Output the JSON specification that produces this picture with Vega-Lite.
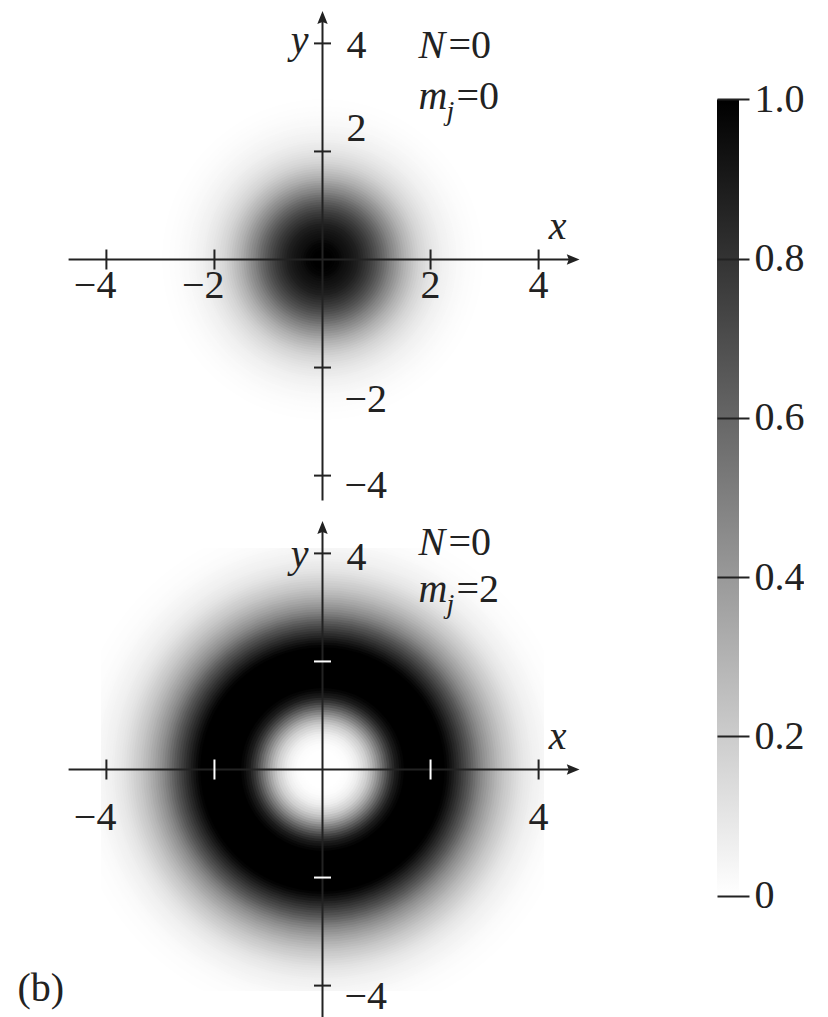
{
  "$schema": "https://vega.github.io/schema/vega-lite/v6.json",
  "background": "#ffffff",
  "padding": {"left": 17, "top": 11, "right": 0, "bottom": 0},
  "autosize": {"type": "pad"},
  "config": {"view": {"stroke": null}},
  "datasets": {
    "gauss": [
      {"r": 3.35, "v": 0.003}, {"r": 3.3, "v": 0.004}, {"r": 3.25, "v": 0.005}, {"r": 3.2, "v": 0.0065},
      {"r": 3.15, "v": 0.008}, {"r": 3.1, "v": 0.01}, {"r": 3.05, "v": 0.012}, {"r": 3.0, "v": 0.0145},
      {"r": 2.95, "v": 0.017}, {"r": 2.9, "v": 0.0195}, {"r": 2.85, "v": 0.022}, {"r": 2.8, "v": 0.026},
      {"r": 2.75, "v": 0.03}, {"r": 2.7, "v": 0.035}, {"r": 2.65, "v": 0.04}, {"r": 2.6, "v": 0.045},
      {"r": 2.55, "v": 0.05}, {"r": 2.5, "v": 0.057}, {"r": 2.45, "v": 0.065}, {"r": 2.4, "v": 0.072},
      {"r": 2.35, "v": 0.08}, {"r": 2.3, "v": 0.09}, {"r": 2.25, "v": 0.1}, {"r": 2.2, "v": 0.112},
      {"r": 2.15, "v": 0.125}, {"r": 2.1, "v": 0.137}, {"r": 2.05, "v": 0.15}, {"r": 2.0, "v": 0.167},
      {"r": 1.95, "v": 0.185}, {"r": 1.9, "v": 0.207}, {"r": 1.85, "v": 0.23}, {"r": 1.8, "v": 0.252},
      {"r": 1.75, "v": 0.275}, {"r": 1.7, "v": 0.302}, {"r": 1.65, "v": 0.33}, {"r": 1.6, "v": 0.36},
      {"r": 1.55, "v": 0.39}, {"r": 1.5, "v": 0.42}, {"r": 1.45, "v": 0.45}, {"r": 1.4, "v": 0.485},
      {"r": 1.35, "v": 0.52}, {"r": 1.3, "v": 0.555}, {"r": 1.25, "v": 0.59}, {"r": 1.2, "v": 0.622},
      {"r": 1.15, "v": 0.655}, {"r": 1.1, "v": 0.685}, {"r": 1.05, "v": 0.715}, {"r": 1.0, "v": 0.745},
      {"r": 0.95, "v": 0.775}, {"r": 0.9, "v": 0.802}, {"r": 0.85, "v": 0.83}, {"r": 0.8, "v": 0.855},
      {"r": 0.75, "v": 0.88}, {"r": 0.7, "v": 0.897}, {"r": 0.65, "v": 0.915}, {"r": 0.6, "v": 0.93},
      {"r": 0.55, "v": 0.945}, {"r": 0.5, "v": 0.955}, {"r": 0.45, "v": 0.965}, {"r": 0.4, "v": 0.975},
      {"r": 0.35, "v": 0.985}, {"r": 0.3, "v": 0.99}, {"r": 0.25, "v": 0.995}, {"r": 0.2, "v": 1.0}
    ],
    "ring": [
      {"r": 5.25, "v": 0.002}, {"r": 5.2, "v": 0.003}, {"r": 5.15, "v": 0.004}, {"r": 5.1, "v": 0.0055},
      {"r": 5.05, "v": 0.007}, {"r": 5.0, "v": 0.0085}, {"r": 4.95, "v": 0.01}, {"r": 4.9, "v": 0.0125},
      {"r": 4.85, "v": 0.015}, {"r": 4.8, "v": 0.018}, {"r": 4.75, "v": 0.022}, {"r": 4.7, "v": 0.026},
      {"r": 4.65, "v": 0.03}, {"r": 4.6, "v": 0.035}, {"r": 4.55, "v": 0.04}, {"r": 4.5, "v": 0.045},
      {"r": 4.45, "v": 0.05}, {"r": 4.4, "v": 0.057}, {"r": 4.35, "v": 0.065}, {"r": 4.3, "v": 0.072},
      {"r": 4.25, "v": 0.08}, {"r": 4.2, "v": 0.09}, {"r": 4.15, "v": 0.1}, {"r": 4.1, "v": 0.115},
      {"r": 4.05, "v": 0.13}, {"r": 4.0, "v": 0.145}, {"r": 3.95, "v": 0.16}, {"r": 3.9, "v": 0.175},
      {"r": 3.85, "v": 0.19}, {"r": 3.8, "v": 0.21}, {"r": 3.75, "v": 0.23}, {"r": 3.7, "v": 0.25},
      {"r": 3.65, "v": 0.27}, {"r": 3.6, "v": 0.295}, {"r": 3.55, "v": 0.32}, {"r": 3.5, "v": 0.345},
      {"r": 3.45, "v": 0.37}, {"r": 3.4, "v": 0.4}, {"r": 3.35, "v": 0.43}, {"r": 3.3, "v": 0.465},
      {"r": 3.25, "v": 0.5}, {"r": 3.2, "v": 0.54}, {"r": 3.15, "v": 0.58}, {"r": 3.1, "v": 0.62},
      {"r": 3.05, "v": 0.66}, {"r": 3.0, "v": 0.7}, {"r": 2.95, "v": 0.74}, {"r": 2.9, "v": 0.78},
      {"r": 2.85, "v": 0.82}, {"r": 2.8, "v": 0.86}, {"r": 2.75, "v": 0.9}, {"r": 2.7, "v": 0.94},
      {"r": 2.65, "v": 0.97}, {"r": 2.6, "v": 0.99}, {"r": 2.55, "v": 1.0},
      {"r": 1.7, "v": 0.985}, {"r": 1.65, "v": 0.97}, {"r": 1.6, "v": 0.935}, {"r": 1.55, "v": 0.9},
      {"r": 1.5, "v": 0.84}, {"r": 1.45, "v": 0.78}, {"r": 1.4, "v": 0.71}, {"r": 1.35, "v": 0.64},
      {"r": 1.3, "v": 0.57}, {"r": 1.25, "v": 0.5}, {"r": 1.2, "v": 0.435}, {"r": 1.15, "v": 0.37},
      {"r": 1.1, "v": 0.315}, {"r": 1.05, "v": 0.26}, {"r": 1.0, "v": 0.215}, {"r": 0.95, "v": 0.17},
      {"r": 0.9, "v": 0.14}, {"r": 0.85, "v": 0.11}, {"r": 0.8, "v": 0.085}, {"r": 0.75, "v": 0.06},
      {"r": 0.7, "v": 0.045}, {"r": 0.65, "v": 0.03}, {"r": 0.6, "v": 0.02}, {"r": 0.55, "v": 0.01},
      {"r": 0.5, "v": 0.006}, {"r": 0.45, "v": 0.003}, {"r": 0.4, "v": 0.001}, {"r": 0.35, "v": 0.0}
    ]
  },
  "spacing": 136,
  "hconcat": [
    {
      "bounds": "flush",
      "spacing": 67,
      "vconcat": [
        {
          "width": 443,
          "height": 443,
          "layer": [
            {
              "data": {"name": "gauss"},
              "mark": {"type": "point", "shape": "circle", "filled": true, "opacity": 1, "strokeWidth": 0, "clip": true},
              "encoding": {
                "x": {"datum": 0, "type": "quantitative", "scale": {"domain": [-4.1, 4.1], "nice": false, "zero": false}, "axis": null},
                "y": {"datum": 0, "type": "quantitative", "scale": {"domain": [-4.1, 4.1], "nice": false, "zero": false}, "axis": null},
                "size": {"field": "r", "type": "quantitative", "scale": {"type": "pow", "exponent": 2, "domain": [0, 4.1], "range": [0, 154134]}, "legend": null},
                "color": {"field": "v", "type": "quantitative", "scale": {"domain": [0, 1], "range": ["#ffffff", "#000000"], "clamp": true}, "legend": null}
              }
            },
            {
              "data": {"values": [{}]},
              "mark": {"type": "rule", "color": "#222222", "strokeWidth": 2},
              "encoding": {
                "x": {"datum": -4.7, "type": "quantitative", "scale": {"domain": [-4.1, 4.1], "nice": false, "zero": false}, "axis": null},
                "x2": {"datum": 4.58},
                "y": {"datum": 0, "type": "quantitative", "scale": {"domain": [-4.1, 4.1], "nice": false, "zero": false}, "axis": null}
              }
            },
            {
              "data": {"values": [{}]},
              "mark": {"type": "point", "shape": "M1,0L-0.6,0.65L-0.35,0L-0.6,-0.65Z", "size": 256, "filled": true, "color": "#222222", "opacity": 1, "strokeWidth": 0},
              "encoding": {
                "x": {"datum": 4.61, "type": "quantitative", "scale": {"domain": [-4.1, 4.1], "nice": false, "zero": false}, "axis": null},
                "y": {"datum": 0, "type": "quantitative", "scale": {"domain": [-4.1, 4.1], "nice": false, "zero": false}, "axis": null}
              }
            },
            {
              "data": {"values": [{}]},
              "mark": {"type": "rule", "color": "#222222", "strokeWidth": 2},
              "encoding": {
                "x": {"datum": 0, "type": "quantitative", "scale": {"domain": [-4.1, 4.1], "nice": false, "zero": false}, "axis": null},
                "y": {"datum": -4.46, "type": "quantitative", "scale": {"domain": [-4.1, 4.1], "nice": false, "zero": false}, "axis": null},
                "y2": {"datum": 4.42}
              }
            },
            {
              "data": {"values": [{}]},
              "mark": {"type": "point", "shape": "M0,-1L0.65,0.6L0,0.35L-0.65,0.6Z", "size": 256, "filled": true, "color": "#222222", "opacity": 1, "strokeWidth": 0},
              "encoding": {
                "x": {"datum": 0, "type": "quantitative", "scale": {"domain": [-4.1, 4.1], "nice": false, "zero": false}, "axis": null},
                "y": {"datum": 4.45, "type": "quantitative", "scale": {"domain": [-4.1, 4.1], "nice": false, "zero": false}, "axis": null}
              }
            },
            {
              "data": {"values": [{"p": -4}, {"p": -2}, {"p": 2}, {"p": 4}]},
              "mark": {"type": "tick", "orient": "vertical", "size": 20, "thickness": 2, "color": "#222222", "opacity": 1},
              "encoding": {
                "x": {"field": "p", "type": "quantitative", "scale": {"domain": [-4.1, 4.1], "nice": false, "zero": false}, "axis": null},
                "y": {"datum": 0, "type": "quantitative", "scale": {"domain": [-4.1, 4.1], "nice": false, "zero": false}, "axis": null}
              }
            },
            {
              "data": {"values": [{"p": -4}, {"p": -2}, {"p": 2}, {"p": 4}]},
              "mark": {"type": "tick", "orient": "horizontal", "size": 17, "thickness": 2, "color": "#222222", "opacity": 1},
              "encoding": {
                "y": {"field": "p", "type": "quantitative", "scale": {"domain": [-4.1, 4.1], "nice": false, "zero": false}, "axis": null},
                "x": {"datum": 0, "type": "quantitative", "scale": {"domain": [-4.1, 4.1], "nice": false, "zero": false}, "axis": null}
              }
            },
            {
              "data": {"values": [{"p": -4, "t": "−4"}, {"p": -2, "t": "−2"}, {"p": 2, "t": "2"}, {"p": 4, "t": "4"}]},
              "mark": {"type": "text", "font": "Liberation Serif", "fontSize": 40, "color": "#222222", "align": "right", "baseline": "alphabetic", "dx": 10, "dy": 38},
              "encoding": {
                "x": {"field": "p", "type": "quantitative", "scale": {"domain": [-4.1, 4.1], "nice": false, "zero": false}, "axis": null},
                "y": {"datum": 0, "type": "quantitative", "scale": {"domain": [-4.1, 4.1], "nice": false, "zero": false}, "axis": null},
                "text": {"field": "t"}
              }
            },
            {
              "data": {"values": [{"p": 4, "t": "4"}]},
              "mark": {"type": "text", "font": "Liberation Serif", "fontSize": 40, "color": "#222222", "align": "left", "baseline": "alphabetic", "dx": 24, "dy": 15},
              "encoding": {
                "x": {"datum": 0, "type": "quantitative", "scale": {"domain": [-4.1, 4.1], "nice": false, "zero": false}, "axis": null},
                "y": {"field": "p", "type": "quantitative", "scale": {"domain": [-4.1, 4.1], "nice": false, "zero": false}, "axis": null},
                "text": {"field": "t"}
              }
            },
            {
              "data": {"values": [{"p": 2, "t": "2"}]},
              "mark": {"type": "text", "font": "Liberation Serif", "fontSize": 40, "color": "#222222", "align": "left", "baseline": "alphabetic", "dx": 24, "dy": -10},
              "encoding": {
                "x": {"datum": 0, "type": "quantitative", "scale": {"domain": [-4.1, 4.1], "nice": false, "zero": false}, "axis": null},
                "y": {"field": "p", "type": "quantitative", "scale": {"domain": [-4.1, 4.1], "nice": false, "zero": false}, "axis": null},
                "text": {"field": "t"}
              }
            },
            {
              "data": {"values": [{"p": -2, "t": "−2"}]},
              "mark": {"type": "text", "font": "Liberation Serif", "fontSize": 40, "color": "#222222", "align": "left", "baseline": "alphabetic", "dx": 22, "dy": 44},
              "encoding": {
                "x": {"datum": 0, "type": "quantitative", "scale": {"domain": [-4.1, 4.1], "nice": false, "zero": false}, "axis": null},
                "y": {"field": "p", "type": "quantitative", "scale": {"domain": [-4.1, 4.1], "nice": false, "zero": false}, "axis": null},
                "text": {"field": "t"}
              }
            },
            {
              "data": {"values": [{"p": -4, "t": "−4"}]},
              "mark": {"type": "text", "font": "Liberation Serif", "fontSize": 40, "color": "#222222", "align": "left", "baseline": "alphabetic", "dx": 22, "dy": 22},
              "encoding": {
                "x": {"datum": 0, "type": "quantitative", "scale": {"domain": [-4.1, 4.1], "nice": false, "zero": false}, "axis": null},
                "y": {"field": "p", "type": "quantitative", "scale": {"domain": [-4.1, 4.1], "nice": false, "zero": false}, "axis": null},
                "text": {"field": "t"}
              }
            },
            {
              "data": {"values": [{}]},
              "mark": {"type": "text", "font": "Liberation Serif", "fontSize": 40, "fontStyle": "italic", "color": "#222222", "align": "center", "baseline": "alphabetic", "dx": 19, "dy": -21},
              "encoding": {
                "x": {"datum": 4, "type": "quantitative", "scale": {"domain": [-4.1, 4.1], "nice": false, "zero": false}, "axis": null},
                "y": {"datum": 0, "type": "quantitative", "scale": {"domain": [-4.1, 4.1], "nice": false, "zero": false}, "axis": null},
                "text": {"value": "x"}
              }
            },
            {
              "data": {"values": [{}]},
              "mark": {"type": "text", "font": "Liberation Serif", "fontSize": 40, "fontStyle": "italic", "color": "#222222", "align": "right", "baseline": "alphabetic", "dx": -14, "dy": 10},
              "encoding": {
                "x": {"datum": 0, "type": "quantitative", "scale": {"domain": [-4.1, 4.1], "nice": false, "zero": false}, "axis": null},
                "y": {"datum": 4, "type": "quantitative", "scale": {"domain": [-4.1, 4.1], "nice": false, "zero": false}, "axis": null},
                "text": {"value": "y"}
              }
            },
            {
              "data": {"values": [{}]},
              "mark": {"type": "text", "font": "Liberation Serif", "fontSize": 40, "fontStyle": "italic", "color": "#222222", "align": "left", "baseline": "alphabetic", "dx": 96, "dy": 15},
              "encoding": {
                "x": {"datum": 0, "type": "quantitative", "scale": {"domain": [-4.1, 4.1], "nice": false, "zero": false}, "axis": null},
                "y": {"datum": 4, "type": "quantitative", "scale": {"domain": [-4.1, 4.1], "nice": false, "zero": false}, "axis": null},
                "text": {"value": "N"}
              }
            },
            {
              "data": {"values": [{}]},
              "mark": {"type": "text", "font": "Liberation Serif", "fontSize": 40, "color": "#222222", "align": "left", "baseline": "alphabetic", "dx": 126, "dy": 15},
              "encoding": {
                "x": {"datum": 0, "type": "quantitative", "scale": {"domain": [-4.1, 4.1], "nice": false, "zero": false}, "axis": null},
                "y": {"datum": 4, "type": "quantitative", "scale": {"domain": [-4.1, 4.1], "nice": false, "zero": false}, "axis": null},
                "text": {"value": "=0"}
              }
            },
            {
              "data": {"values": [{}]},
              "mark": {"type": "text", "font": "Liberation Serif", "fontSize": 40, "fontStyle": "italic", "color": "#222222", "align": "left", "baseline": "alphabetic", "dx": 96, "dy": 66},
              "encoding": {
                "x": {"datum": 0, "type": "quantitative", "scale": {"domain": [-4.1, 4.1], "nice": false, "zero": false}, "axis": null},
                "y": {"datum": 4, "type": "quantitative", "scale": {"domain": [-4.1, 4.1], "nice": false, "zero": false}, "axis": null},
                "text": {"value": "m"}
              }
            },
            {
              "data": {"values": [{}]},
              "mark": {"type": "text", "font": "Liberation Serif", "fontSize": 28, "fontStyle": "italic", "color": "#222222", "align": "left", "baseline": "alphabetic", "dx": 124, "dy": 77},
              "encoding": {
                "x": {"datum": 0, "type": "quantitative", "scale": {"domain": [-4.1, 4.1], "nice": false, "zero": false}, "axis": null},
                "y": {"datum": 4, "type": "quantitative", "scale": {"domain": [-4.1, 4.1], "nice": false, "zero": false}, "axis": null},
                "text": {"value": "j"}
              }
            },
            {
              "data": {"values": [{}]},
              "mark": {"type": "text", "font": "Liberation Serif", "fontSize": 40, "color": "#222222", "align": "left", "baseline": "alphabetic", "dx": 134, "dy": 66},
              "encoding": {
                "x": {"datum": 0, "type": "quantitative", "scale": {"domain": [-4.1, 4.1], "nice": false, "zero": false}, "axis": null},
                "y": {"datum": 4, "type": "quantitative", "scale": {"domain": [-4.1, 4.1], "nice": false, "zero": false}, "axis": null},
                "text": {"value": "=0"}
              }
            }
          ]
        },
        {
          "width": 443,
          "height": 443,
          "layer": [
            {
              "data": {"name": "ring"},
              "mark": {"type": "point", "shape": "circle", "filled": true, "opacity": 1, "strokeWidth": 0, "clip": true},
              "encoding": {
                "x": {"datum": 0, "type": "quantitative", "scale": {"domain": [-4.1, 4.1], "nice": false, "zero": false}, "axis": null},
                "y": {"datum": 0, "type": "quantitative", "scale": {"domain": [-4.1, 4.1], "nice": false, "zero": false}, "axis": null},
                "size": {"field": "r", "type": "quantitative", "scale": {"type": "pow", "exponent": 2, "domain": [0, 4.1], "range": [0, 154134]}, "legend": null},
                "color": {"field": "v", "type": "quantitative", "scale": {"domain": [0, 1], "range": ["#ffffff", "#000000"], "clamp": true}, "legend": null}
              }
            },
            {
              "data": {"values": [{}]},
              "mark": {"type": "rule", "color": "#222222", "strokeWidth": 2},
              "encoding": {
                "x": {"datum": -4.7, "type": "quantitative", "scale": {"domain": [-4.1, 4.1], "nice": false, "zero": false}, "axis": null},
                "x2": {"datum": 4.58},
                "y": {"datum": 0, "type": "quantitative", "scale": {"domain": [-4.1, 4.1], "nice": false, "zero": false}, "axis": null}
              }
            },
            {
              "data": {"values": [{}]},
              "mark": {"type": "point", "shape": "M1,0L-0.6,0.65L-0.35,0L-0.6,-0.65Z", "size": 256, "filled": true, "color": "#222222", "opacity": 1, "strokeWidth": 0},
              "encoding": {
                "x": {"datum": 4.61, "type": "quantitative", "scale": {"domain": [-4.1, 4.1], "nice": false, "zero": false}, "axis": null},
                "y": {"datum": 0, "type": "quantitative", "scale": {"domain": [-4.1, 4.1], "nice": false, "zero": false}, "axis": null}
              }
            },
            {
              "data": {"values": [{}]},
              "mark": {"type": "rule", "color": "#222222", "strokeWidth": 2},
              "encoding": {
                "x": {"datum": 0, "type": "quantitative", "scale": {"domain": [-4.1, 4.1], "nice": false, "zero": false}, "axis": null},
                "y": {"datum": -4.75, "type": "quantitative", "scale": {"domain": [-4.1, 4.1], "nice": false, "zero": false}, "axis": null},
                "y2": {"datum": 4.42}
              }
            },
            {
              "data": {"values": [{}]},
              "mark": {"type": "point", "shape": "M0,-1L0.65,0.6L0,0.35L-0.65,0.6Z", "size": 256, "filled": true, "color": "#222222", "opacity": 1, "strokeWidth": 0},
              "encoding": {
                "x": {"datum": 0, "type": "quantitative", "scale": {"domain": [-4.1, 4.1], "nice": false, "zero": false}, "axis": null},
                "y": {"datum": 4.45, "type": "quantitative", "scale": {"domain": [-4.1, 4.1], "nice": false, "zero": false}, "axis": null}
              }
            },
            {
              "data": {"values": [{"p": -4}, {"p": 4}]},
              "mark": {"type": "tick", "orient": "vertical", "size": 20, "thickness": 2, "color": "#222222", "opacity": 1},
              "encoding": {
                "x": {"field": "p", "type": "quantitative", "scale": {"domain": [-4.1, 4.1], "nice": false, "zero": false}, "axis": null},
                "y": {"datum": 0, "type": "quantitative", "scale": {"domain": [-4.1, 4.1], "nice": false, "zero": false}, "axis": null}
              }
            },
            {
              "data": {"values": [{"p": -2}, {"p": 2}]},
              "mark": {"type": "tick", "orient": "vertical", "size": 20, "thickness": 2, "color": "#ffffff", "opacity": 1},
              "encoding": {
                "x": {"field": "p", "type": "quantitative", "scale": {"domain": [-4.1, 4.1], "nice": false, "zero": false}, "axis": null},
                "y": {"datum": 0, "type": "quantitative", "scale": {"domain": [-4.1, 4.1], "nice": false, "zero": false}, "axis": null}
              }
            },
            {
              "data": {"values": [{"p": -4}, {"p": 4}]},
              "mark": {"type": "tick", "orient": "horizontal", "size": 17, "thickness": 2, "color": "#222222", "opacity": 1},
              "encoding": {
                "y": {"field": "p", "type": "quantitative", "scale": {"domain": [-4.1, 4.1], "nice": false, "zero": false}, "axis": null},
                "x": {"datum": 0, "type": "quantitative", "scale": {"domain": [-4.1, 4.1], "nice": false, "zero": false}, "axis": null}
              }
            },
            {
              "data": {"values": [{"p": -2}, {"p": 2}]},
              "mark": {"type": "tick", "orient": "horizontal", "size": 17, "thickness": 2, "color": "#ffffff", "opacity": 1},
              "encoding": {
                "y": {"field": "p", "type": "quantitative", "scale": {"domain": [-4.1, 4.1], "nice": false, "zero": false}, "axis": null},
                "x": {"datum": 0, "type": "quantitative", "scale": {"domain": [-4.1, 4.1], "nice": false, "zero": false}, "axis": null}
              }
            },
            {
              "data": {"values": [{"p": -4, "t": "−4"}, {"p": 4, "t": "4"}]},
              "mark": {"type": "text", "font": "Liberation Serif", "fontSize": 40, "color": "#222222", "align": "right", "baseline": "alphabetic", "dx": 10, "dy": 60},
              "encoding": {
                "x": {"field": "p", "type": "quantitative", "scale": {"domain": [-4.1, 4.1], "nice": false, "zero": false}, "axis": null},
                "y": {"datum": 0, "type": "quantitative", "scale": {"domain": [-4.1, 4.1], "nice": false, "zero": false}, "axis": null},
                "text": {"field": "t"}
              }
            },
            {
              "data": {"values": [{"p": 4, "t": "4"}]},
              "mark": {"type": "text", "font": "Liberation Serif", "fontSize": 40, "color": "#222222", "align": "left", "baseline": "alphabetic", "dx": 24, "dy": 17},
              "encoding": {
                "x": {"datum": 0, "type": "quantitative", "scale": {"domain": [-4.1, 4.1], "nice": false, "zero": false}, "axis": null},
                "y": {"field": "p", "type": "quantitative", "scale": {"domain": [-4.1, 4.1], "nice": false, "zero": false}, "axis": null},
                "text": {"field": "t"}
              }
            },
            {
              "data": {"values": [{"p": -4, "t": "−4"}]},
              "mark": {"type": "text", "font": "Liberation Serif", "fontSize": 40, "color": "#222222", "align": "left", "baseline": "alphabetic", "dx": 22, "dy": 23},
              "encoding": {
                "x": {"datum": 0, "type": "quantitative", "scale": {"domain": [-4.1, 4.1], "nice": false, "zero": false}, "axis": null},
                "y": {"field": "p", "type": "quantitative", "scale": {"domain": [-4.1, 4.1], "nice": false, "zero": false}, "axis": null},
                "text": {"field": "t"}
              }
            },
            {
              "data": {"values": [{}]},
              "mark": {"type": "text", "font": "Liberation Serif", "fontSize": 40, "fontStyle": "italic", "color": "#222222", "align": "center", "baseline": "alphabetic", "dx": 19, "dy": -21},
              "encoding": {
                "x": {"datum": 4, "type": "quantitative", "scale": {"domain": [-4.1, 4.1], "nice": false, "zero": false}, "axis": null},
                "y": {"datum": 0, "type": "quantitative", "scale": {"domain": [-4.1, 4.1], "nice": false, "zero": false}, "axis": null},
                "text": {"value": "x"}
              }
            },
            {
              "data": {"values": [{}]},
              "mark": {"type": "text", "font": "Liberation Serif", "fontSize": 40, "fontStyle": "italic", "color": "#222222", "align": "right", "baseline": "alphabetic", "dx": -14, "dy": 14},
              "encoding": {
                "x": {"datum": 0, "type": "quantitative", "scale": {"domain": [-4.1, 4.1], "nice": false, "zero": false}, "axis": null},
                "y": {"datum": 4, "type": "quantitative", "scale": {"domain": [-4.1, 4.1], "nice": false, "zero": false}, "axis": null},
                "text": {"value": "y"}
              }
            },
            {
              "data": {"values": [{}]},
              "mark": {"type": "text", "font": "Liberation Serif", "fontSize": 40, "fontStyle": "italic", "color": "#222222", "align": "left", "baseline": "alphabetic", "dx": 96, "dy": 2},
              "encoding": {
                "x": {"datum": 0, "type": "quantitative", "scale": {"domain": [-4.1, 4.1], "nice": false, "zero": false}, "axis": null},
                "y": {"datum": 4, "type": "quantitative", "scale": {"domain": [-4.1, 4.1], "nice": false, "zero": false}, "axis": null},
                "text": {"value": "N"}
              }
            },
            {
              "data": {"values": [{}]},
              "mark": {"type": "text", "font": "Liberation Serif", "fontSize": 40, "color": "#222222", "align": "left", "baseline": "alphabetic", "dx": 126, "dy": 2},
              "encoding": {
                "x": {"datum": 0, "type": "quantitative", "scale": {"domain": [-4.1, 4.1], "nice": false, "zero": false}, "axis": null},
                "y": {"datum": 4, "type": "quantitative", "scale": {"domain": [-4.1, 4.1], "nice": false, "zero": false}, "axis": null},
                "text": {"value": "=0"}
              }
            },
            {
              "data": {"values": [{}]},
              "mark": {"type": "text", "font": "Liberation Serif", "fontSize": 40, "fontStyle": "italic", "color": "#222222", "align": "left", "baseline": "alphabetic", "dx": 96, "dy": 49},
              "encoding": {
                "x": {"datum": 0, "type": "quantitative", "scale": {"domain": [-4.1, 4.1], "nice": false, "zero": false}, "axis": null},
                "y": {"datum": 4, "type": "quantitative", "scale": {"domain": [-4.1, 4.1], "nice": false, "zero": false}, "axis": null},
                "text": {"value": "m"}
              }
            },
            {
              "data": {"values": [{}]},
              "mark": {"type": "text", "font": "Liberation Serif", "fontSize": 28, "fontStyle": "italic", "color": "#222222", "align": "left", "baseline": "alphabetic", "dx": 124, "dy": 60},
              "encoding": {
                "x": {"datum": 0, "type": "quantitative", "scale": {"domain": [-4.1, 4.1], "nice": false, "zero": false}, "axis": null},
                "y": {"datum": 4, "type": "quantitative", "scale": {"domain": [-4.1, 4.1], "nice": false, "zero": false}, "axis": null},
                "text": {"value": "j"}
              }
            },
            {
              "data": {"values": [{}]},
              "mark": {"type": "text", "font": "Liberation Serif", "fontSize": 40, "color": "#222222", "align": "left", "baseline": "alphabetic", "dx": 134, "dy": 49},
              "encoding": {
                "x": {"datum": 0, "type": "quantitative", "scale": {"domain": [-4.1, 4.1], "nice": false, "zero": false}, "axis": null},
                "y": {"datum": 4, "type": "quantitative", "scale": {"domain": [-4.1, 4.1], "nice": false, "zero": false}, "axis": null},
                "text": {"value": "=2"}
              }
            },
            {
              "data": {"values": [{}]},
              "mark": {"type": "text", "font": "Liberation Serif", "fontSize": 40, "color": "#222222", "align": "left", "baseline": "alphabetic", "dx": -89, "dy": 15},
              "encoding": {
                "x": {"datum": -4, "type": "quantitative", "scale": {"domain": [-4.1, 4.1], "nice": false, "zero": false}, "axis": null},
                "y": {"datum": -4, "type": "quantitative", "scale": {"domain": [-4.1, 4.1], "nice": false, "zero": false}, "axis": null},
                "text": {"value": "(b)"}
              }
            }
          ]
        }
      ]
    },
    {
      "width": 22,
      "height": 953,
      "layer": [
        {
          "data": {"values": [{}]},
          "mark": {
            "type": "rect",
            "fill": {"gradient": "linear", "x1": 0, "y1": 1, "x2": 0, "y2": 0, "stops": [{"offset": 0, "color": "#ffffff"}, {"offset": 1, "color": "#000000"}]}
          },
          "encoding": {
            "x": {"datum": 0, "type": "quantitative", "scale": {"domain": [0, 1], "nice": false, "zero": false}, "axis": null},
            "x2": {"datum": 1},
            "y": {
              "datum": 0, "type": "quantitative",
              "scale": {"domain": [-0.11997, 1.07726], "nice": false, "zero": false},
              "axis": {
                "orient": "right", "values": [0, 0.2, 0.4, 0.6, 0.8, 1], "offset": -22,
                "tickSize": 32, "tickWidth": 2, "tickColor": "#222222", "domain": false, "grid": false,
                "labelFont": "Liberation Serif", "labelFontSize": 40, "labelColor": "#222222", "labelPadding": 5,
                "labelExpr": "datum.value == 0 ? '0' : format(datum.value, '.1f')",
                "title": null, "zindex": 1, "labelFlush": false, "labelOverlap": false
              }
            },
            "y2": {"datum": 1}
          }
        }
      ]
    }
  ]
}
